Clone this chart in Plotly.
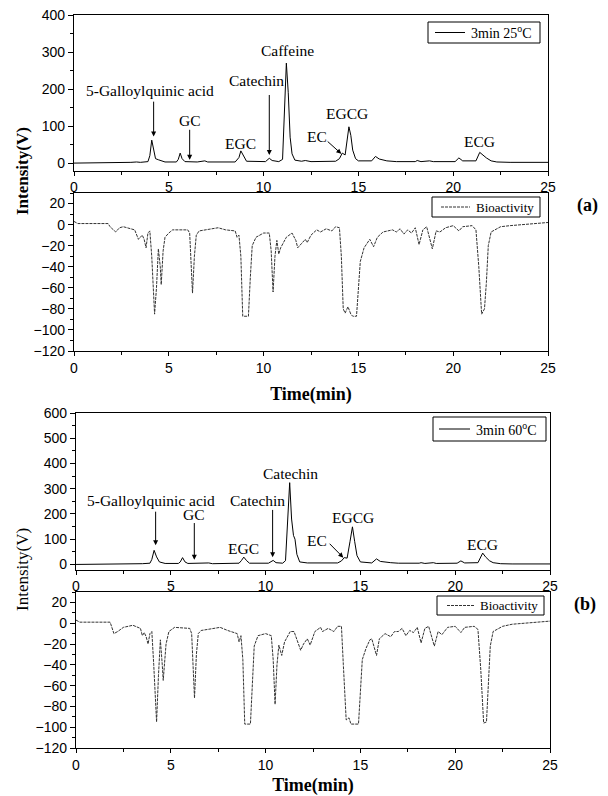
import plotly.graph_objects as go

# ---------------- data ----------------
# (a) 3 min 25 C chromatogram
t_chrom_a = [0, 2.0, 2.5, 3.0, 3.3, 3.5, 3.9, 4.0, 4.1, 4.2, 4.3, 4.45, 4.6, 4.8, 5.4, 5.5, 5.6, 5.7, 5.85,
             6.5, 6.9, 7.05, 8.5, 8.7, 8.8, 8.95, 9.1, 10.1, 10.3, 10.45, 10.8, 11.0, 11.1, 11.2, 11.3, 11.4,
             11.5, 11.65, 12.0, 12.2, 12.5, 13.8, 14.0, 14.15, 14.3, 14.4, 14.5, 14.6, 14.7, 14.85, 15.0,
             15.7, 15.9, 16.1, 16.5, 17.0, 18.0, 18.1, 18.3, 18.75, 18.95, 20.1, 20.3, 20.5, 21.2, 21.4,
             21.55, 21.75, 22.0, 22.3, 23.0, 25.0]
i_chrom_a = [0, 0, 1, 2, 3, 2, 4, 20, 62, 35, 12, 9, 6, 3, 3, 10, 27, 12, 4,
             3, 6, 3, 3, 15, 33, 18, 5, 4, 13, 7, 4, 10, 120, 270, 190, 70,
             25, 8, 5, 7, 4, 5, 12, 27, 22, 55, 98, 75, 35, 12, 6,
             6, 18, 11, 6, 4, 4, 7, 4, 6, 4, 4, 14, 6, 6, 29,
             22, 14, 6, 3, 2, 2]

# (a) bioactivity
t_bio_a = [0, 0.2, 1.8, 1.9, 2.2, 2.4, 2.6, 3.0, 3.2, 3.4, 3.6, 3.7, 3.8, 3.9, 4.0, 4.1, 4.25, 4.35, 4.45,
           4.55, 4.6, 4.7, 4.8, 5.0, 5.2, 6.0, 6.1, 6.25, 6.35, 6.45, 6.6, 7.6, 8.0, 8.5, 8.6, 8.7, 8.8,
           8.9, 9.2, 9.3, 9.4, 9.6, 10.0, 10.3, 10.4, 10.5, 10.6, 10.7, 10.8, 10.9, 11.2, 11.5, 11.7, 11.8,
           12.0, 12.2, 12.3, 12.5, 12.8, 13.0, 13.3, 13.6, 13.8, 14.0, 14.1, 14.2, 14.3, 14.45, 14.6, 14.7,
           14.9, 15.0, 15.1, 15.3, 15.6, 15.8, 16.0, 16.3, 16.8, 17.0, 17.2, 17.4, 17.6, 17.8, 18.0, 18.2,
           18.4, 18.6, 18.9, 19.1, 19.3, 19.6, 20.0, 20.3, 20.5, 21.0, 21.2, 21.35, 21.5, 21.65, 21.75,
           21.85, 22.0, 22.5, 23.0, 25.0]
v_bio_a = [3, 1, 1, -2, -7, -3, -2, -4, -5, -14, -10, -14, -22, -8, -6, -30, -85, -60, -23,
           -40, -57, -25, -12, -8, -5, -5, -8, -65, -30, -10, -6, -3, -5, -6, -12, -10, -30,
           -87, -87, -50, -20, -12, -8, -8, -25, -64, -30, -15, -28, -22, -12, -8, -15, -22,
           -18, -14, -17, -10, -5, -7, -4, -6, -2, -3, -30, -80, -84, -78, -85, -87,
           -87, -60, -35, -22, -14, -21, -12, -7, -5, -7, -4, -9, -5, -8, -3, -19,
           -5, -2, -23, -6, -7, -3, -1, -6, -2, -1, -5, -40, -85, -80, -55,
           -20, -7, -2, -1, 2]

# (b) 3 min 60 C chromatogram
t_chrom_b = [0, 2.5, 3.5, 3.9, 4.0, 4.12, 4.25, 4.4, 4.5, 4.7, 5.4, 5.5, 5.62, 5.75, 5.9, 6.9, 7.0, 7.2,
             8.6, 8.72, 8.85, 9.0, 9.15, 10.15, 10.4, 10.55, 10.9, 11.05, 11.15, 11.27, 11.37, 11.47,
             11.55, 11.65, 11.8, 12.2, 13.8, 14.0, 14.15, 14.3, 14.45, 14.58, 14.7, 14.82, 15.0, 15.6,
             15.85, 16.05, 16.6, 17.0, 18.1, 18.2, 18.4, 18.75, 18.85, 19.0, 20.1, 20.3, 20.5, 21.2,
             21.3, 21.45, 21.6, 21.8, 22.0, 22.4, 23.0, 25.0]
i_chrom_b = [0, 1, 3, 5, 20, 56, 30, 10, 8, 4, 4, 10, 27, 10, 4, 5, 6, 3,
             5, 15, 29, 15, 5, 5, 16, 7, 5, 15, 150, 324, 180, 115,
             100, 40, 10, 6, 6, 14, 27, 25, 90, 149, 90, 35, 10, 6,
             22, 12, 7, 5, 5, 7, 4, 5, 7, 4, 5, 14, 6, 7,
             20, 45, 30, 15, 7, 3, 2, 2]

# (b) bioactivity
t_bio_b = [0, 0.2, 1.8, 1.9, 2.0, 2.2, 2.5, 3.0, 3.4, 3.5, 3.6, 3.7, 3.8, 3.9, 4.0, 4.1, 4.25, 4.35, 4.45,
           4.55, 4.6, 4.75, 4.9, 5.2, 6.0, 6.1, 6.25, 6.35, 6.45, 6.6, 7.6, 8.0, 8.5, 8.6, 8.7, 8.8,
           8.9, 9.2, 9.3, 9.4, 9.6, 10.0, 10.3, 10.4, 10.5, 10.6, 10.7, 10.85, 11.0, 11.3, 11.5, 11.7,
           11.85, 12.0, 12.2, 12.35, 12.6, 12.9, 13.0, 13.3, 13.6, 13.8, 14.0, 14.1, 14.25, 14.4, 14.5,
           14.9, 15.0, 15.1, 15.3, 15.5, 15.6, 15.85, 16.0, 16.3, 16.6, 16.8, 17.0, 17.2, 17.4, 17.6,
           17.8, 18.0, 18.2, 18.4, 18.6, 18.9, 19.1, 19.3, 19.6, 20.0, 20.3, 20.5, 21.0, 21.2, 21.35,
           21.5, 21.65, 21.75, 21.85, 22.0, 22.5, 23.0, 25.0]
v_bio_b = [3, 1, 1, -5, -10, -8, -4, -2, -5, -12, -9, -13, -20, -10, -8, -40, -95, -50, -16,
           -40, -55, -20, -8, -4, -5, -10, -72, -30, -10, -7, -4, -7, -10, -18, -12, -35,
           -97, -97, -60, -22, -12, -10, -12, -35, -78, -40, -21, -31, -18, -8, -8, -18,
           -26, -20, -15, -21, -8, -4, -8, -5, -8, -3, -3, -40, -93, -91, -97,
           -97, -60, -35, -24, -16, -15, -31, -15, -10, -13, -8, -8, -5, -12, -7,
           -9, -4, -19, -5, -3, -22, -8, -11, -4, -3, -9, -4, -3, -6, -45,
           -96, -95, -60, -22, -8, -3, -1, 2]

# peak labels: (text, x, y)
labels_a = [("5-Galloylquinic acid", 4.0, 196), ("GC", 6.1, 116), ("EGC", 8.8, 54),
            ("Catechin", 9.6, 223), ("Caffeine", 11.27, 304), ("EC", 12.8, 71),
            ("EGCG", 14.4, 134), ("ECG", 21.4, 58)]
# arrows: (x_head, y_head, x_tail, y_tail)
arrows_a = [(4.2, 72, 4.2, 170), (6.1, 9, 6.1, 94), (10.3, 22, 10.3, 188), (14.1, 25, 13.3, 62)]

labels_b = [("5-Galloylquinic acid", 3.93, 254), ("GC", 6.24, 196), ("EGC", 8.83, 62),
            ("Catechin", 9.55, 255), ("Catechin", 11.29, 361), ("EC", 12.72, 96),
            ("EGCG", 14.6, 185), ("ECG", 21.45, 80)]
arrows_b = [(4.2, 76, 4.2, 215), (6.24, 19, 6.24, 170), (10.37, 29, 10.37, 222), (14.1, 27, 13.3, 88)]

legend_names = ["3min 25<sup>o</sup>C", "Bioactivity", "3min 60<sup>o</sup>C", "Bioactivity"]
x_title = "<b>Time(min)</b>"

# ---------------- figure ----------------
SERIF = "Liberation Serif, Times New Roman, serif"
SANS = "Liberation Sans, Arial, sans-serif"
# the page adds an 8 px body margin, so the figure is drawn 8 px smaller and
# all reference pixel positions are shifted by that offset
OFF = 8.0
W = 608.0 - OFF
H = 796.0 - OFF


def px(p):
    return (p - OFF) / W


def py(p):
    return 1 - (p - OFF) / H


fig = go.Figure()

chrom_line = dict(color="black", width=1)
bio_line = dict(color="#333", width=1, dash="3px,1px")

fig.add_trace(go.Scatter(x=t_chrom_a, y=i_chrom_a, mode="lines", name=legend_names[0],
                         line=chrom_line, xaxis="x", yaxis="y"))
fig.add_trace(go.Scatter(x=t_bio_a, y=v_bio_a, mode="lines", name=legend_names[1],
                         line=bio_line, xaxis="x2", yaxis="y2"))
fig.add_trace(go.Scatter(x=t_chrom_b, y=i_chrom_b, mode="lines", name=legend_names[2],
                         line=chrom_line, xaxis="x3", yaxis="y3"))
fig.add_trace(go.Scatter(x=t_bio_b, y=v_bio_b, mode="lines", name=legend_names[3],
                         line=bio_line, xaxis="x4", yaxis="y4"))


def ydom(top_px, bot_px):
    return [py(bot_px), py(top_px)]


dom_a = [px(74), px(548)]
dom_b = [px(76), px(550)]

common_x = dict(range=[0, 25], dtick=5, tick0=0, showline=True, linecolor="black", linewidth=1.2,
                mirror=True, ticks="outside", ticklen=4, tickcolor="black", showgrid=False,
                zeroline=False, automargin=False, ticklabeloverflow="allow",
                tickfont=dict(family=SANS, size=14, color="black"),
                minor=dict(dtick=2.5, ticks="outside", ticklen=3, tickcolor="black"))
common_y = dict(showline=True, linecolor="black", linewidth=1.2, mirror=True, ticks="outside",
                ticklen=5, tickcolor="black", showgrid=False, zeroline=False, automargin=False,
                ticklabeloverflow="allow",
                tickfont=dict(family=SANS, size=14, color="black"))
title_x = dict(text=x_title, font=dict(family=SERIF, size=18, color="black"), standoff=12)

fig.update_layout(
    width=W, height=H,
    margin=dict(l=0, r=0, t=0, b=0, autoexpand=False),
    paper_bgcolor="white", plot_bgcolor="white",
    showlegend=False,
    xaxis=dict(domain=dom_a, anchor="y", **common_x),
    yaxis=dict(domain=ydom(15, 170.5), anchor="x", range=[-20, 400], dtick=100, tick0=0,
               minor=dict(dtick=50, ticks="outside", ticklen=3, tickcolor="black"), **common_y),
    xaxis2=dict(domain=dom_a, anchor="y2", title=title_x, **common_x),
    yaxis2=dict(domain=ydom(193, 351), anchor="x2", range=[-120, 30], dtick=20, tick0=0,
                minor=dict(dtick=10, ticks="outside", ticklen=3, tickcolor="black"), **common_y),
    xaxis3=dict(domain=dom_b, anchor="y3", **common_x),
    yaxis3=dict(domain=ydom(413, 569.5), anchor="x3", range=[-20, 600], dtick=100, tick0=0,
                minor=dict(dtick=50, ticks="outside", ticklen=3, tickcolor="black"), **common_y),
    xaxis4=dict(domain=dom_b, anchor="y4", title=title_x, **common_x),
    yaxis4=dict(domain=ydom(592, 748), anchor="x4", range=[-120, 30], dtick=20, tick0=0,
                minor=dict(dtick=10, ticks="outside", ticklen=3, tickcolor="black"), **common_y),
)

shapes = []
ann = []

# legend boxes: (name, box x0, x1, y0, y1, sample x0, x1, text x, line style, font size)
legend_boxes = [
    (legend_names[0], 428, 540, 22, 43, 435, 465, 469, chrom_line, 14),
    (legend_names[1], 432, 540, 197, 217, 441, 470, 474, bio_line, 13),
    (legend_names[2], 433, 546, 417, 441, 439, 470, 474, chrom_line, 14),
    (legend_names[3], 437, 544, 596, 615, 447, 475, 478, bio_line, 13),
]
for (name, bx0, bx1, by0, by1, sx0, sx1, tx, ls, fs) in legend_boxes:
    shapes.append(dict(type="rect", xref="paper", yref="paper", x0=px(bx0), x1=px(bx1),
                       y0=py(by1), y1=py(by0), line=dict(color="black", width=1),
                       fillcolor="white", layer="above"))
    ym = (by0 + by1) / 2
    shapes.append(dict(type="line", xref="paper", yref="paper", x0=px(sx0), x1=px(sx1),
                       y0=py(ym), y1=py(ym), line=dict(color=ls["color"], width=ls["width"],
                                                       dash=ls.get("dash", "solid")),
                       layer="above"))
    ann.append(dict(text=name, x=px(tx), y=py(ym), xref="paper", yref="paper", xanchor="left",
                    yanchor="middle", showarrow=False, font=dict(family=SERIF, size=fs, color="black")))

for (labels, arrows, xr, yr) in [(labels_a, arrows_a, "x", "y"), (labels_b, arrows_b, "x3", "y3")]:
    for (txt, lx, ly) in labels:
        ann.append(dict(text=txt, x=lx, y=ly, xref=xr, yref=yr, showarrow=False,
                        xanchor="center", yanchor="middle",
                        font=dict(family=SERIF, size=15.5, color="black")))
    for (hx, hy, tx, ty) in arrows:
        ann.append(dict(text="", x=hx, y=hy, xref=xr, yref=yr, ax=tx, ay=ty, axref=xr, ayref=yr,
                        showarrow=True, arrowhead=2, arrowsize=1, arrowwidth=1, arrowcolor="black"))

# y titles and panel labels
ctr = dict(xref="paper", yref="paper", xanchor="center", yanchor="middle", showarrow=False)
ann.append(dict(text="<b>Intensity(V)</b>", x=px(22), y=py(171), textangle=-90,
                font=dict(family=SERIF, size=17, color="black"), **ctr))
ann.append(dict(text="Intensity(V)", x=px(22), y=py(570), textangle=-90,
                font=dict(family=SERIF, size=17, color="black"), **ctr))
ann.append(dict(text="<b>(a)</b>", x=px(587), y=py(205),
                font=dict(family=SERIF, size=18, color="black"), **ctr))
ann.append(dict(text="<b>(b)</b>", x=px(585), y=py(604),
                font=dict(family=SERIF, size=18, color="black"), **ctr))

fig.update_layout(annotations=ann, shapes=shapes)

fig.write_html("out.html")
